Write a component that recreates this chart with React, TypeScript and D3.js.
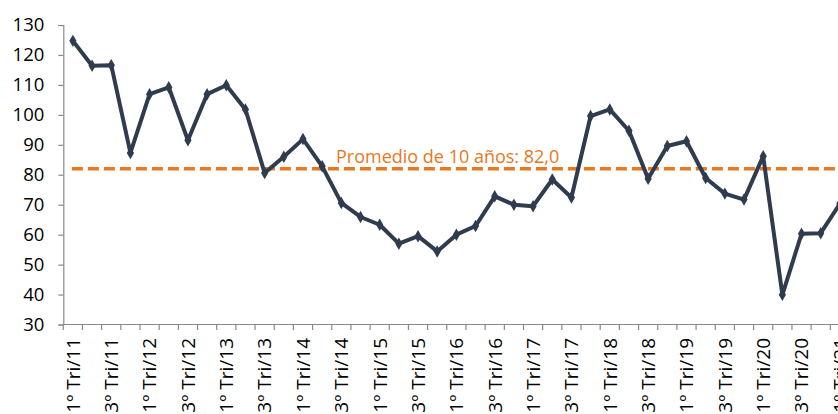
import React, { useEffect, useRef } from 'react';
import * as d3 from 'd3';

// quarterly index, 1º Tri/11 .. 1º Tri/21
const years = ['11', '12', '13', '14', '15', '16', '17', '18', '19', '20', '21'];
const quarters = ['1º', '2º', '3º', '4º'];
const values = [
  124.7, 116.4, 116.6, 87.3, 106.9, 109.2, 91.5, 106.9, 109.9, 101.8,
  80.6, 86.0, 91.9, 82.8, 70.6, 65.9, 63.3, 57.0, 59.5, 54.4,
  60.0, 62.9, 72.8, 70.0, 69.5, 78.4, 72.4, 99.6, 101.8, 94.7,
  78.7, 89.6, 91.2, 78.9, 73.7, 71.7, 86.2, 39.9, 60.3, 60.5,
  70.3
];
const average = 82.0;
const yTicks = [30, 40, 50, 60, 70, 80, 90, 100, 110, 120, 130];

const categories = values.map((_, i) => quarters[i % 4] + ' Tri/' + years[Math.floor(i / 4)]);

const App: React.FC = () => {
  const svgRef = useRef<SVGSVGElement>(null);

  useEffect(() => {
    if (!svgRef.current) return;
    const svg = d3.select(svgRef.current);
    svg.selectAll('*').remove();

    const left = 63.3;
    const step = 19.175;
    const x = d3.scaleBand<string>()
      .domain(categories)
      .range([left, left + step * categories.length])
      .padding(0);
    const y = d3.scaleLinear().domain([30, 130]).range([324.5, 25]);
    const cx = (c: string) => (x(c) ?? 0) + x.bandwidth() / 2;

    const axisColor = '#898989';
    const font = "'Open Sans', sans-serif";

    // y axis
    const yAxis = svg.append('g')
      .attr('transform', `translate(${left},0)`)
      .call(d3.axisLeft(y).tickValues(yTicks).tickSize(5).tickPadding(14));
    yAxis.select('.domain').attr('stroke', axisColor).attr('stroke-width', 1.2);
    yAxis.selectAll('.tick line').attr('stroke', axisColor).attr('stroke-width', 1.2);
    yAxis.selectAll('.tick text')
      .attr('font-family', font)
      .attr('font-size', 18.5)
      .attr('fill', '#000');

    // x axis: ticks at category boundaries
    const xg = svg.append('g');
    xg.append('line')
      .attr('x1', left).attr('x2', left + step * categories.length)
      .attr('y1', y(30)).attr('y2', y(30))
      .attr('stroke', axisColor).attr('stroke-width', 1.2);
    xg.selectAll('line.tick')
      .data(categories)
      .enter().append('line')
      .attr('class', 'tick')
      .attr('x1', d => x(d) ?? 0).attr('x2', d => x(d) ?? 0)
      .attr('y1', y(30)).attr('y2', y(30) + 5.5)
      .attr('stroke', axisColor).attr('stroke-width', 1.2);
    xg.selectAll('text')
      .data(categories.filter((_, i) => i % 2 === 0))
      .enter().append('text')
      .attr('transform', d => `translate(${cx(d)},338) rotate(-90)`)
      .attr('text-anchor', 'end')
      .attr('dy', '0.36em')
      .attr('font-family', font)
      .attr('font-size', 19)
      .attr('fill', '#000')
      .text(d => d);

    // average line
    svg.append('line')
      .attr('x1', cx(categories[0]) - 1)
      .attr('x2', left + step * categories.length)
      .attr('y1', y(average)).attr('y2', y(average))
      .attr('stroke', '#E9771E')
      .attr('stroke-width', 3.6)
      .attr('stroke-dasharray', '11,5');

    svg.append('text')
      .attr('x', 336)
      .attr('y', y(average) - 6)
      .attr('font-family', font)
      .attr('font-size', 18)
      .attr('fill', '#E9771E')
      .text('Promedio de 10 años: 82,0');

    // series
    const line = d3.line<number>()
      .x((_, i) => cx(categories[i]))
      .y(d => y(d));
    svg.append('path')
      .datum(values)
      .attr('d', line)
      .attr('fill', 'none')
      .attr('stroke', '#2F3B4E')
      .attr('stroke-width', 4)
      .attr('stroke-linejoin', 'round');

    svg.selectAll('path.marker')
      .data(values)
      .enter().append('path')
      .attr('class', 'marker')
      .attr('d', d3.symbol(d3.symbolDiamond, 45)())
      .attr('transform', (d, i) => `translate(${cx(categories[i])},${y(d)})`)
      .attr('fill', '#2F3B4E');
  }, []);

  return (
    <div style={{ position: 'absolute', left: 0, top: 0, width: 838, height: 414, overflow: 'hidden', background: '#fff' }}>
      <svg ref={svgRef} width={838} height={414}></svg>
    </div>
  );
};

export default App;
